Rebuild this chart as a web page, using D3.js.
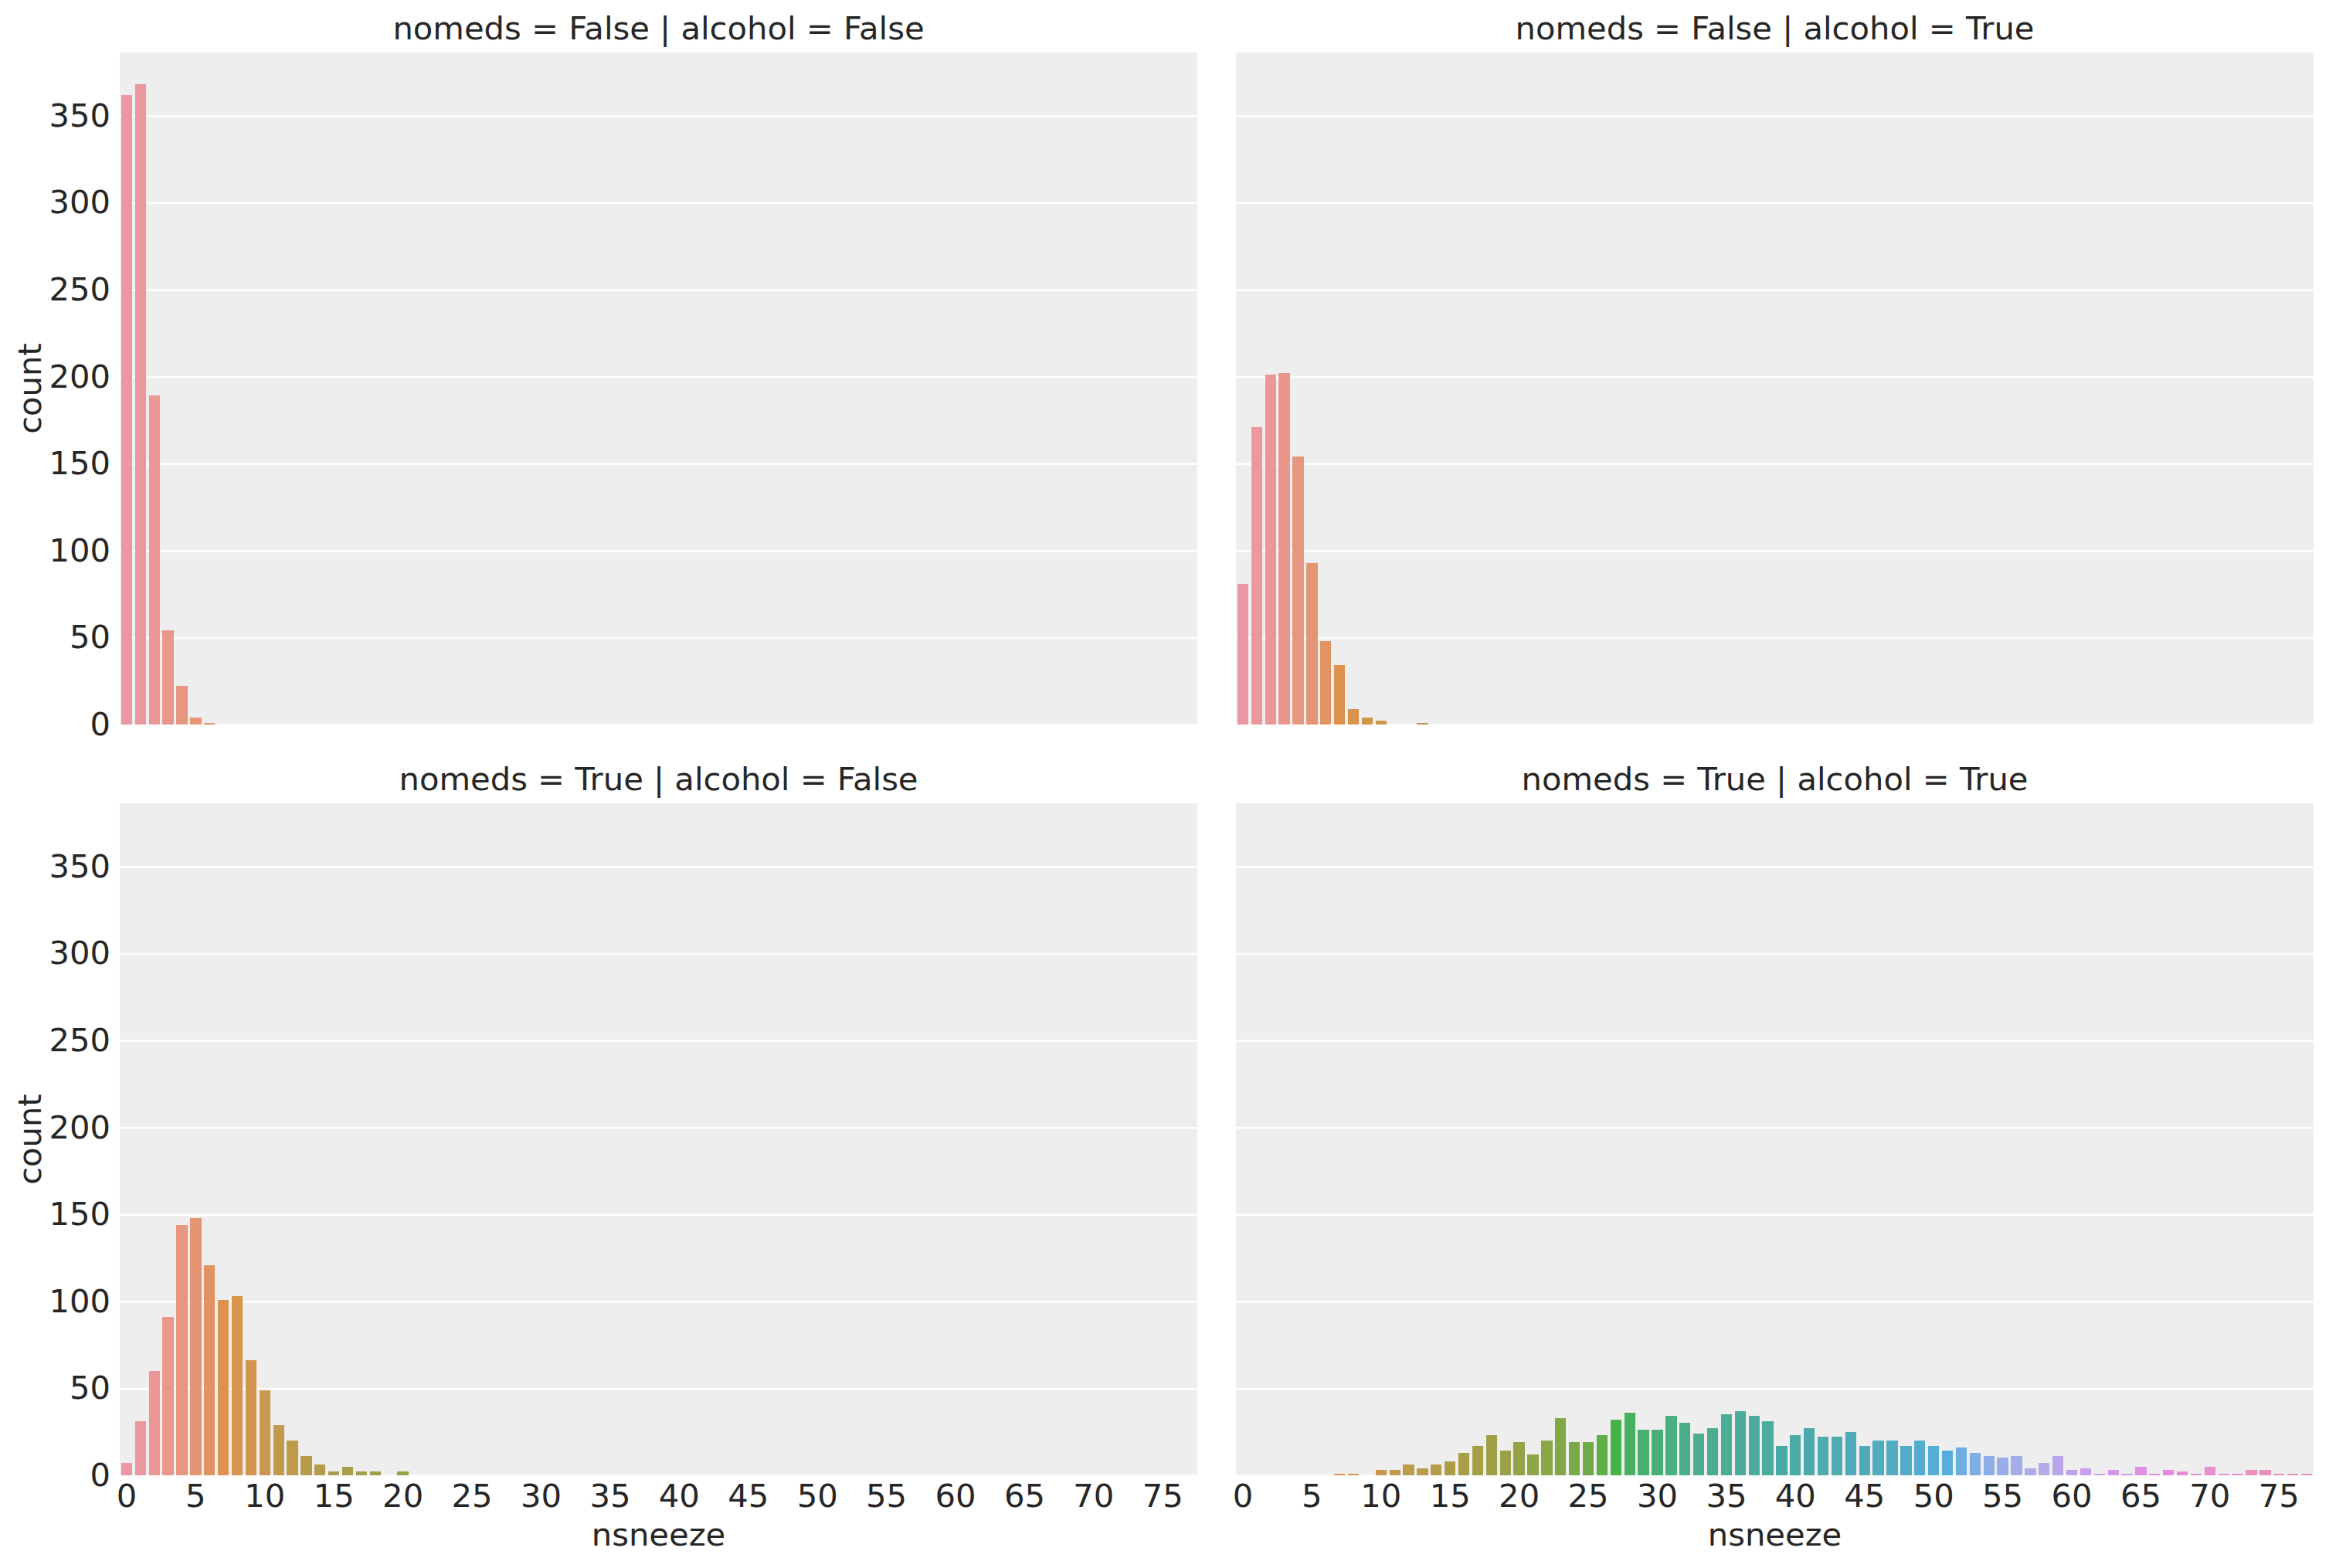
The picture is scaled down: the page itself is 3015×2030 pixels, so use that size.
<!DOCTYPE html>
<html>
<head>
<meta charset="utf-8">
<script src="https://cdn.jsdelivr.net/npm/d3@7"></script>
<style>
  body { margin: 0; background: #fff; }
  text { font-family: "DejaVu Sans", sans-serif; fill: #262626; }
</style>
</head>
<body>
<div id="chart"></div>
<script>
// nsneeze categories (0..77) and tick labels
var nsneeze = d3.range(78);
var xTickLabels = [0, 5, 10, 15, 20, 25, 30, 35, 40, 45, 50, 55, 60, 65, 70, 75];
var yTickLabels = [0, 50, 100, 150, 200, 250, 300, 350];

// counts per facet (index = nsneeze value, missing tail = 0)
var countsFalseFalse = [362, 368, 189, 54, 22, 4, 1];
var countsFalseTrue = [81, 171, 201, 202, 154, 93, 48, 34, 9, 4, 2, 0, 0, 1];
var countsTrueFalse = [7, 31, 60, 91, 144, 148, 121, 101, 103, 66, 49, 29, 20, 11, 6, 2, 5, 2, 2, 0, 2];
var countsTrueTrue = [0, 0, 0, 0, 0, 0, 0, 1, 1, 0, 3, 3, 6, 4, 6, 8, 13, 17, 23, 14,
  19, 12, 20, 33, 19, 19, 23, 32, 36, 26, 26, 34, 30, 24, 27, 35, 37, 34, 31, 17,
  23, 27, 22, 22, 25, 17, 20, 20, 17, 20, 17, 14, 16, 13, 11, 10, 11, 4, 7, 11,
  3, 4, 1, 3, 1, 5, 1, 3, 2, 1, 5, 1, 1, 3, 3, 1, 1, 1];

var facetTitles = [
  "nomeds = False | alcohol = False",
  "nomeds = False | alcohol = True",
  "nomeds = True | alcohol = False",
  "nomeds = True | alcohol = True"
];
var facetCounts = [countsFalseFalse, countsFalseTrue, countsTrueFalse, countsTrueTrue];

// husl -> rgb (same math as seaborn's bundled husl)
var M = [[3.2406, -1.5372, -0.4986], [-0.9689, 1.8758, 0.0415], [0.0557, -0.2040, 1.0570]];
function maxChroma(L, H) {
  var hrad = H * Math.PI / 180, sinH = Math.sin(hrad), cosH = Math.cos(hrad);
  var sub1 = Math.pow(L + 16, 3) / 1560896, sub2 = sub1 > 0.008856 ? sub1 : L / 903.3;
  var result = Infinity;
  M.forEach(function(row) {
    var top = (0.99915 * row[0] + 1.05122 * row[1] + 1.14460 * row[2]) * sub2;
    var rbottom = 0.86330 * row[2] - 0.17266 * row[1];
    var lbottom = 0.12949 * row[2] - 0.38848 * row[0];
    var bottom = (rbottom * sinH + lbottom * cosH) * sub2;
    [0, 1].forEach(function(t) {
      var C = L * (top - 1.05122 * t) / (bottom + 0.17266 * sinH * t);
      if (C > 0 && C < result) result = C;
    });
  });
  return result;
}
function huslToRgb(H, S, L) {
  var C = maxChroma(L, H) / 100 * S;
  var hr = H * Math.PI / 180, U = Math.cos(hr) * C, V = Math.sin(hr) * C;
  var t = (L + 16) / 116;
  var Y = Math.pow(t, 3) > 0.008856 ? Math.pow(t, 3) : (116 * t - 16) / 903.3;
  var varU = U / (13 * L) + 0.19784, varV = V / (13 * L) + 0.46834;
  var X = -(9 * Y * varU) / ((varU - 4) * varV - varU * varV);
  var Z = (9 * Y - 15 * varV * Y - varV * X) / (3 * varV);
  return M.map(function(r) {
    var c = r[0] * X + r[1] * Y + r[2] * Z;
    c = c <= 0.0031308 ? 12.92 * c : 1.055 * Math.pow(c, 1 / 2.4) - 0.055;
    return Math.max(0, Math.min(1, c));
  });
}

// one colour per category, desaturated like seaborn bars
var palette = nsneeze.map(function(d, i) {
  var h = ((i / nsneeze.length + 0.01) % 1) * 359;
  var rgb = huslToRgb(h, 0.9 * 99, 0.7 * 99);
  var c = d3.hsl(d3.rgb(rgb[0] * 255, rgb[1] * 255, rgb[2] * 255));
  c.s *= 0.75;
  return c.formatHex();
});

var width = 3015, height = 2030;
var panelW = 1395, panelH = 870;
var colLeft = [155, 1600], rowTop = [68, 1040];
var fontSize = 41.7;

var svg = d3.select("#chart").append("svg")
    .attr("width", width)
    .attr("height", height);

var xScale = d3.scaleBand()
    .domain(nsneeze)
    .range([0, panelW])
    .paddingInner(0.2)
    .paddingOuter(0.1);

var yScale = d3.scaleLinear()
    .domain([0, d3.max(facetCounts, function(c) { return d3.max(c); }) * 1.05])
    .range([panelH, 0]);

facetCounts.forEach(function(counts, k) {
  var row = Math.floor(k / 2), col = k % 2;
  var g = svg.append("g")
      .attr("transform", "translate(" + colLeft[col] + "," + rowTop[row] + ")");

  // panel background
  g.append("rect")
      .attr("width", panelW)
      .attr("height", panelH)
      .attr("fill", "#eeeeee");

  // horizontal grid
  g.append("g")
      .attr("class", "grid")
      .call(d3.axisLeft(yScale).tickValues(yTickLabels).tickSize(-panelW).tickFormat(""))
      .call(function(s) { s.select(".domain").remove(); })
      .selectAll("line")
      .attr("stroke", "#ffffff")
      .attr("stroke-width", 2.5);

  // bars
  var data = nsneeze.map(function(d) { return { x: d, n: counts[d] || 0 }; });
  g.selectAll(".bar")
      .data(data.filter(function(d) { return d.n > 0; }))
      .enter().append("rect")
      .attr("class", "bar")
      .attr("x", function(d) { return xScale(d.x); })
      .attr("width", xScale.bandwidth())
      .attr("y", function(d) { return yScale(d.n); })
      .attr("height", function(d) { return panelH - yScale(d.n); })
      .attr("fill", function(d) { return palette[d.x]; })
      .attr("shape-rendering", "crispEdges");

  // y axis labels on left column only
  if (col === 0) {
    g.append("g")
        .attr("class", "y axis")
        .call(d3.axisLeft(yScale).tickValues(yTickLabels).tickSize(0).tickPadding(12))
        .call(function(s) { s.select(".domain").remove(); })
        .selectAll("text")
        .style("font-size", fontSize + "px")
        .attr("fill", "#262626");

    g.append("text")
        .attr("transform", "translate(" + (53 - colLeft[col]) + "," + (panelH / 2) + ") rotate(-90)")
        .style("text-anchor", "middle")
        .style("font-size", fontSize + "px")
        .text("count");
  }

  // x axis labels on bottom row only
  if (row === 1) {
    g.append("g")
        .attr("class", "x axis")
        .attr("transform", "translate(0," + panelH + ")")
        .call(d3.axisBottom(xScale).tickValues(xTickLabels).tickSize(0).tickPadding(11))
        .call(function(s) { s.select(".domain").remove(); })
        .selectAll("text")
        .style("font-size", fontSize + "px")
        .attr("fill", "#262626");

    g.append("text")
        .attr("x", panelW / 2)
        .attr("y", panelH + 91)
        .style("text-anchor", "middle")
        .style("font-size", fontSize + "px")
        .text("nsneeze");
  }

  // facet title
  g.append("text")
      .attr("x", panelW / 2)
      .attr("y", -17)
      .style("text-anchor", "middle")
      .style("font-size", fontSize + "px")
      .text(facetTitles[k]);
});
</script>
</body>
</html>
